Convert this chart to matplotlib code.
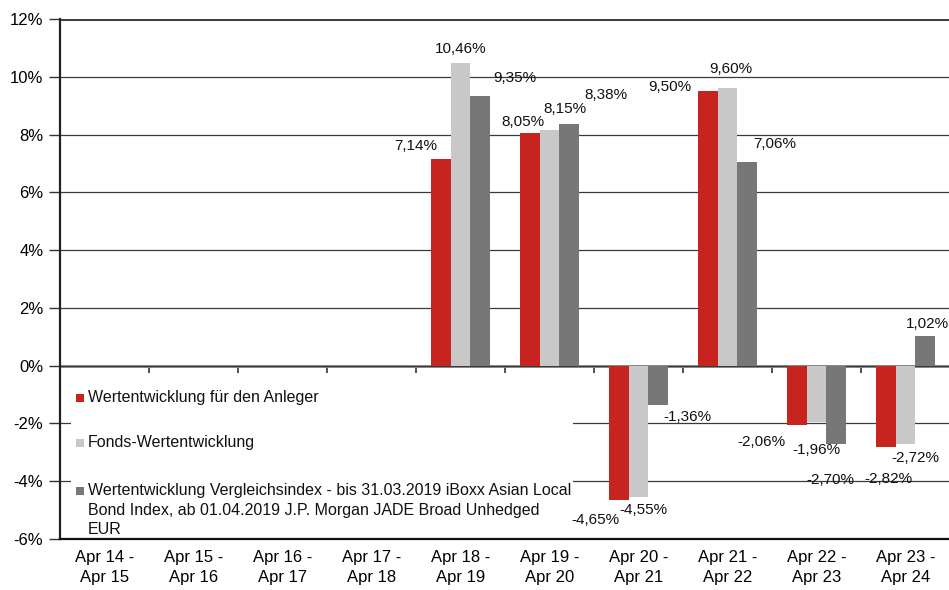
import numpy as np
import matplotlib
matplotlib.use("Agg")
import matplotlib.pyplot as plt
from matplotlib.patches import Rectangle
from matplotlib.ticker import FuncFormatter

plt.rcParams['font.family'] = ['Liberation Sans', 'DejaVu Sans']
plt.rcParams['axes.unicode_minus'] = False

categories = ["Apr 14 -\nApr 15", "Apr 15 -\nApr 16", "Apr 16 -\nApr 17", "Apr 17 -\nApr 18",
              "Apr 18 -\nApr 19", "Apr 19 -\nApr 20", "Apr 20 -\nApr 21", "Apr 21 -\nApr 22",
              "Apr 22 -\nApr 23", "Apr 23 -\nApr 24"]
anleger = [np.nan, np.nan, np.nan, np.nan, 7.14, 8.05, -4.65, 9.50, -2.06, -2.82]
fonds = [np.nan, np.nan, np.nan, np.nan, 10.46, 8.15, -4.55, 9.60, -1.96, -2.72]
index = [np.nan, np.nan, np.nan, np.nan, 9.35, 8.38, -1.36, 7.06, -2.70, 1.02]
series_names = ["Wertentwicklung für den Anleger",
                "Fonds-Wertentwicklung",
                "Wertentwicklung Vergleichsindex - bis 31.03.2019 iBoxx Asian Local\n"
                "Bond Index, ab 01.04.2019 J.P. Morgan JADE Broad Unhedged\nEUR"]
colors = ["#C8241F", "#C8C8C8", "#777777"]

# hand placed label nudges (pixels, dx / distance from bar end), like the original
nudge = [
    [(0, 0), (0, 0), (0, 0), (0, 0), (-25, 13), (-7, 11), (-23, 20), (-38, 4), (-35, 17), (3, 32)],
    [(0, 0), (0, 0), (0, 0), (0, 0), (0, 14), (15, 21), (5, 13), (3, 19), (0, 28), (10, 14)],
    [(0, 0), (0, 0), (0, 0), (0, 0), (35, 18), (37, 29), (29, 12), (28, 18), (-6, 36), (2, 12)],
]

fig = plt.figure(figsize=(9.49, 5.90), dpi=100)
ax = fig.add_axes([60 / 949, 1 - 539 / 590, 890 / 949, 520 / 590])

x = np.arange(len(categories))
w = 0.22
for i, (vals, c) in enumerate(zip([anleger, fonds, index], colors)):
    xs = x + (i - 1) * w
    ax.bar(xs, vals, width=w, color=c, edgecolor='none', zorder=2)
    for j, v in enumerate(vals):
        if np.isnan(v):
            continue
        dx, dy = nudge[i][j]
        txt = f"{v:.2f}".replace('.', ',') + '%'
        ax.annotate(txt, (xs[j], v), xytext=(dx, dy if v >= 0 else -dy),
                    textcoords='offset pixels', ha='center', va='center',
                    fontsize=11, color='#111111', zorder=5)

ax.set_xlim(-0.5, 9.5)
ax.set_ylim(-6, 12)
ax.set_yticks(np.arange(-6, 13, 2))
ax.yaxis.set_major_formatter(FuncFormatter(lambda v, p: f"{v:.0f}%"))
ax.set_xticks(x)
ax.set_xticklabels(categories, fontsize=12, linespacing=1.4)
ax.tick_params(axis='x', length=0, pad=8)
ax.tick_params(axis='y', length=8, width=1, color='#333333', labelsize=12, pad=4)

ax.grid(axis='y', color='#3a3a3a', lw=0.9)
ax.set_axisbelow(True)
for s in ['top', 'right']:
    ax.spines[s].set_visible(False)
ax.spines['left'].set_color('#222222')
ax.spines['left'].set_linewidth(1.6)
ax.spines['bottom'].set_color('#111111')
ax.spines['bottom'].set_linewidth(1.6)
ax.axhline(12, color='#404040', lw=2.2, zorder=1)

# zero line with category boundary ticks
sec = ax.secondary_xaxis(6 / 18)
sec.set_xticks(np.arange(0.5, 9.5, 1))
sec.set_xticklabels([])
sec.tick_params(axis='x', direction='out', length=5, width=1.2, color='#333333')
sec.spines['bottom'].set_color('#888888')
sec.spines['bottom'].set_linewidth(2)

# legend block in the lower left
ax.add_patch(Rectangle((0.0124, 0.004), 0.564, 0.316, transform=ax.transAxes,
                       facecolor='white', edgecolor='none', zorder=3))
leg_y = [0.271, 0.1846, 0.0923]
for name, c, yy in zip(series_names, colors, leg_y):
    ax.add_patch(Rectangle((0.018, yy - 0.0077), 0.009, 0.0154, transform=ax.transAxes,
                           facecolor=c, edgecolor='none', zorder=4))
    multi = '\n' in name
    ax.text(0.0315, yy + (0.0145 if multi else 0.0005), name, transform=ax.transAxes,
            fontsize=11.5, va='top' if multi else 'center', linespacing=1.35,
            zorder=4, color='#111111')

fig.savefig("out.png", dpi=100)
